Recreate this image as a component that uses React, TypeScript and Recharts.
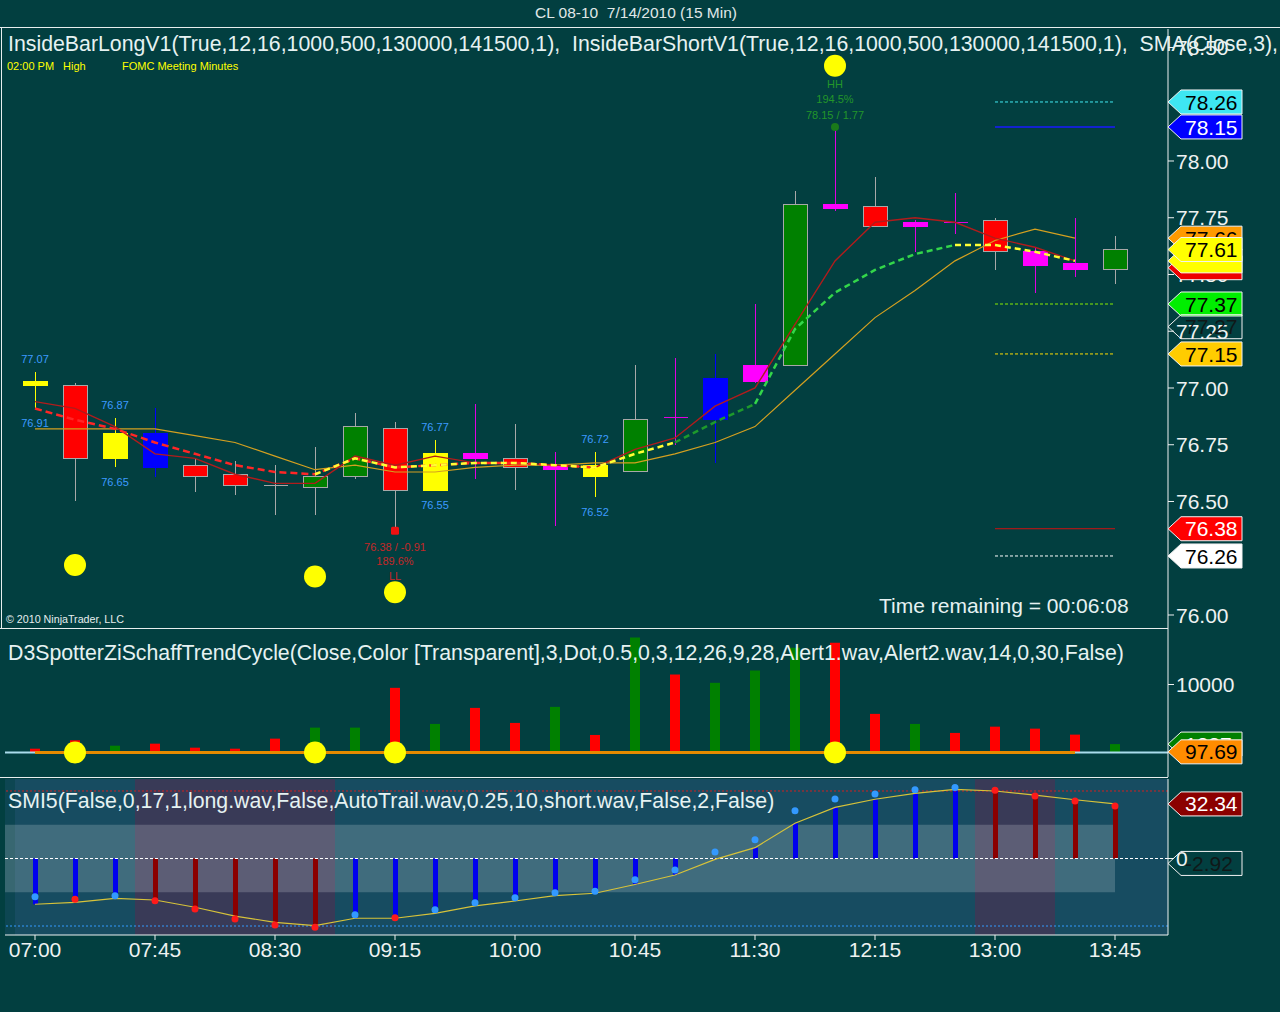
import React from 'react';
import {
  Bar,
  Cell,
  ComposedChart,
  Line,
  ReferenceArea,
  ReferenceLine,
  XAxis,
  YAxis,
} from 'recharts';

// 15 min bars, CL 08-10, 7/14/2010
const times = [
  '07:00', '07:15', '07:30', '07:45', '08:00', '08:15', '08:30', '08:45',
  '09:00', '09:15', '09:30', '09:45', '10:00', '10:15', '10:30', '10:45',
  '11:00', '11:15', '11:30', '11:45', '12:00', '12:15', '12:30', '12:45',
  '13:00', '13:15', '13:30', '13:45',
];
const opens = [
  77.03, 77.01, 76.69, 76.8, 76.66, 76.62, 76.57, 76.56, 76.61, 76.82, 76.55, 76.69, 76.69, 76.66,
  76.61, 76.63, 76.87, 76.86, 77.03, 77.1, 77.81, 77.8, 77.73, 77.73, 77.74, 77.6, 77.55, 77.52,
];
const highs = [
  77.07, 77.02, 76.87, 76.91, 76.69, 76.68, 76.66, 76.74, 76.89, 76.85, 76.77, 76.93, 76.84, 76.72,
  76.72, 77.1, 77.13, 77.15, 77.37, 77.87, 78.15, 77.93, 77.74, 77.86, 77.75, 77.62, 77.75, 77.67,
];
const lows = [
  76.91, 76.5, 76.65, 76.61, 76.54, 76.53, 76.44, 76.44, 76.6, 76.38, 76.55, 76.6, 76.55, 76.39,
  76.52, 76.63, 76.75, 76.67, 77.02, 77.1, 77.78, 77.71, 77.6, 77.68, 77.52, 77.42, 77.49, 77.46,
];
const closes = [
  77.01, 76.69, 76.8, 76.65, 76.61, 76.57, 76.57, 76.61, 76.83, 76.55, 76.71, 76.71, 76.65, 76.64,
  76.66, 76.86, 76.87, 77.04, 77.1, 77.81, 77.79, 77.71, 77.71, 77.73, 77.6, 77.54, 77.52, 77.61,
];
// bar painter states: inside bars are yellow, etc.
const barKinds = [
  'inside', 'down', 'inside', 'blue', 'down', 'down', 'doji', 'up', 'up', 'down', 'inside', 'pink',
  'down', 'pink', 'inside', 'up', 'pink', 'blue', 'pink', 'up', 'pink', 'down', 'pink', 'pink',
  'down', 'pink', 'pink', 'up',
];

const fastMa = [
  76.94, 76.91, 76.83, 76.71, 76.69, 76.62, 76.58, 76.58, 76.7, 76.66, 76.7, 76.67, 76.67, 76.66,
  76.65, 76.73, 76.78, 76.92, 77.0, 77.28, 77.56, 77.73, 77.75, 77.73, 77.66, 77.62, 77.56, null,
];
const slowMa = [
  76.82, 76.82, 76.82, 76.82, 76.79, 76.76, 76.7, 76.64, 76.66, 76.63, 76.63, 76.65, 76.66, 76.66,
  76.67, 76.67, 76.71, 76.76, 76.83, 76.99, 77.15, 77.31, 77.43, 77.56, 77.65, 77.7, 77.66, null,
];
const trendMa = [
  76.91, 76.86, 76.82, 76.76, 76.71, 76.66, 76.63, 76.62, 76.69, 76.65, 76.66, 76.67, 76.67, 76.66,
  76.65, 76.71, 76.76, 76.85, 76.93, 77.26, 77.42, 77.52, 77.59, 77.63, 77.63, 77.6, 77.56, null,
];
// bar ranges of each colour of the trend line
const trendRed = [0, 14];
const trendYellow = [[7, 16], [23, 26]];
const trendDarkGreen = [16, 18];
const trendGreen = [18, 23];

const signalBars = [1, 7, 9, 20];
const signalPrices = [76.22, 76.17, 76.1, 78.42];

const swingLowBar = 9;
const swingLowPrice = 76.38;
const swingLowText = ['76.38 / -0.91', '189.6%', 'LL'];
const swingHighBar = 20;
const swingHighPrice = 78.15;
const swingHighText = ['HH', '194.5%', '78.15 / 1.77'];

const priceTicks = [76, 76.5, 76.75, 77, 77.25, 77.5, 77.75, 78, 78.5];
const levelPrices = [78.26, 78.15, 77.37, 77.15, 76.38, 76.26];
const tagPrices = [78.26, 78.15, 77.53, 77.56, 77.66, 77.61, 77.37, 77.27, 77.15, 76.38, 76.26];
// tags whose text is covered by the tag drawn on top of them
const coveredTags = [77.53, 77.56];

const volumes = [
  560, 1800, 1000, 1300, 710, 560, 2040, 3660, 3660, 9510, 4200, 6560, 4350, 6710, 2580, 16900,
  11470, 10250, 12060, 15410, 16150, 5680, 4200, 2880, 3800, 3510, 2630, 1237,
];
const volumeKinds = [
  'down', 'down', 'up', 'down', 'down', 'down', 'down', 'up', 'up', 'down', 'up', 'down', 'down',
  'up', 'down', 'up', 'down', 'up', 'up', 'up', 'down', 'down', 'up', 'down', 'down', 'down',
  'down', 'up',
];
const volumeTicks = [10000];
const volumeTags = [1237, 97.69];

const smiSignal = [
  -27.1, -26.0, -23.6, -24.6, -28.9, -34.1, -37.8, -39.8, -35.4, -35.4, -32.5, -28.1, -25.2, -22.0,
  -20.6, -15.4, -9.8, -0.5, 6.4, 20.9, 30.3, 35.1, 38.6, 41.0, 40.0, 37.6, 34.8, 32.34,
];
const smiValues = [
  -22.6, -24.2, -22.0, -25.0, -29.9, -35.9, -39.4, -40.8, -33.3, -35.1, -30.3, -26.2, -23.2, -20.3,
  -19.4, -12.6, -6.8, 3.9, 11.1, 28.3, 35.3, 38.2, 40.8, 42.0, 40.4, 37.0, 34.1, 31.1,
];
const smiStemKinds = [
  'long', 'long', 'long', 'short', 'short', 'short', 'short', 'short', 'long', 'long', 'long',
  'long', 'long', 'long', 'long', 'long', 'long', 'long', 'long', 'long', 'long', 'long', 'long',
  'long', 'short', 'short', 'short', 'short',
];
const smiDotKinds = [
  'long', 'short', 'long', 'short', 'short', 'short', 'short', 'short', 'long', 'short', 'long',
  'long', 'long', 'long', 'long', 'long', 'long', 'long', 'long', 'long', 'long', 'long', 'long',
  'long', 'short', 'short', 'short', 'short',
];
const smiTicks = [0];
const smiTags = [32.34, -2.92];

const PRICE_DOMAIN = [75.9383, 78.5815];
const VOL_DOMAIN = [-3603, 18162];
const SMI_DOMAIN = [-45.33, 47.11];

const BG = '#023f40';
const FONT = '"Liberation Sans", Arial, sans-serif';
const AXIS = '#eef2f2';

const CANDLE: Record<string, { body: string; wick: string; border: string }> = {
  inside: { body: '#ffff00', wick: '#ffff00', border: '#ffff00' },
  down: { body: '#ff0000', wick: '#a8a8a8', border: '#a8a8a8' },
  up: { body: '#008000', wick: '#a8a8a8', border: '#a8a8a8' },
  blue: { body: '#0000ff', wick: '#0000ff', border: '#0000ff' },
  pink: { body: '#ff00ff', wick: '#e000e0', border: '#ff00ff' },
  doji: { body: '#a8a8a8', wick: '#a8a8a8', border: '#a8a8a8' },
};
const LEVEL_STYLES = [
  { color: '#40e8f0', dash: '3 2', width: 1 },
  { color: '#1a1aff', dash: undefined, width: 1.5 },
  { color: '#88ee00', dash: '3 2', width: 1 },
  { color: '#ffdd00', dash: '3 2', width: 1 },
  { color: '#d01010', dash: undefined, width: 1 },
  { color: '#ffffff', dash: '3 2', width: 1 },
];
const PRICE_TAG_STYLES = [
  { fill: '#3ee6f2', text: '#000' },
  { fill: '#0000ff', text: '#fff' },
  { fill: '#ee0000', text: '#fff' },
  { fill: '#ffff00', text: '#000' },
  { fill: '#ff9a00', text: '#000' },
  { fill: '#ffff00', text: '#000' },
  { fill: '#00ee00', text: '#000' },
  { fill: 'none', text: '#101818' },
  { fill: '#ffcc00', text: '#000' },
  { fill: '#ff0000', text: '#fff' },
  { fill: '#ffffff', text: '#000' },
];
const VOLUME_TAG_STYLES = [
  { fill: '#008000', text: '#fff' },
  { fill: '#ff8c00', text: '#000' },
];
const SMI_TAG_STYLES = [
  { fill: '#8b0000', text: '#fff' },
  { fill: 'none', text: '#101818' },
];

const inSpan = (i: number, span: number[]) => i >= span[0] && i <= span[1];

const rows = times.map((t, i) => {
  const sigIdx = signalBars.indexOf(i);
  return {
    t,
    i,
    range: [lows[i], highs[i]],
    o: opens[i],
    h: highs[i],
    l: lows[i],
    c: closes[i],
    kind: barKinds[i],
    fast: fastMa[i],
    slow: slowMa[i],
    trendRed: inSpan(i, trendRed) ? trendMa[i] : null,
    trendYellow: trendYellow.some((s) => inSpan(i, s)) ? trendMa[i] : null,
    trendDarkGreen: inSpan(i, trendDarkGreen) ? trendMa[i] : null,
    trendGreen: inSpan(i, trendGreen) ? trendMa[i] : null,
    insideHigh: barKinds[i] === 'inside' ? highs[i] : null,
    insideLow: barKinds[i] === 'inside' ? lows[i] : null,
    sig: sigIdx >= 0 ? signalPrices[sigIdx] : null,
    sigVol: sigIdx >= 0 ? 0 : null,
    swingLow: i === swingLowBar ? swingLowPrice : null,
    swingHigh: i === swingHighBar ? swingHighPrice : null,
    vol: volumes[i],
    signal: smiSignal[i],
    smi: smiValues[i],
  };
});

const Candle = (props: any) => {
  const { x, y, width, height, payload } = props;
  if (x == null || y == null) return <g />;
  const { o, h, l, c, kind } = payload;
  const st = CANDLE[kind];
  const cx = Math.round(x + width / 2) + 0.5;
  const ppu = h > l ? height / (h - l) : 0;
  const top = y + (h - Math.max(o, c)) * ppu;
  const bot = y + (h - Math.min(o, c)) * ppu;
  const left = cx - 12;
  const isCross = kind === 'doji' || Math.abs(o - c) < 0.005;
  return (
    <g shapeRendering="crispEdges">
      <line x1={cx} x2={cx} y1={y} y2={y + height} stroke={st.wick} strokeWidth={1} />
      {isCross ? (
        <line x1={left} x2={left + 24} y1={top} y2={top} stroke={st.wick} strokeWidth={1.5} />
      ) : (
        <rect
          x={left}
          y={top}
          width={24}
          height={Math.max(bot - top, 3)}
          fill={st.body}
          stroke={st.border}
          strokeWidth={1}
        />
      )}
    </g>
  );
};

const Tag = ({ x, y, text, fill, color }: any) => (
  <g>
    <polygon
      points={`${x},${y} ${x + 13},${y - 12} ${x + 74},${y - 12} ${x + 74},${y + 12} ${x + 13},${y + 12}`}
      fill={fill}
      stroke="#f2f2f2"
      strokeWidth={1}
    />
    {text ? (
      <text x={x + 17} y={y} dy="0.36em" fontSize={21} fill={color}>
        {text}
      </text>
    ) : null}
  </g>
);

const makeTick =
  (tagValues: number[], tagStyles: { fill: string; text: string }[], fmt: (v: number) => string) =>
  (props: any) => {
    const { x, y, payload, index } = props;
    const v = payload.value;
    const k = tagValues.indexOf(v);
    if (k >= 0) {
      const st = tagStyles[k];
      const text = coveredTags.includes(v) ? '' : fmt(v);
      return <Tag key={`tag-${index}`} x={x} y={y} text={text} fill={st.fill} color={st.text} />;
    }
    return (
      <g key={`tick-${index}`}>
        <line x1={x} x2={x + 6} y1={y} y2={y} stroke={AXIS} />
        <text x={x + 8} y={y} dy="0.36em" fontSize={21} fill={AXIS}>
          {fmt(v)}
        </text>
      </g>
    );
  };

const priceFmt = (v: number) => v.toFixed(2);
const volFmt = (v: number) => (Number.isInteger(v) ? String(v) : v.toFixed(2));
const smiFmt = (v: number) => (v === 0 ? '0' : v.toFixed(2));

const blank = (key: any) => <g key={key} />;

const InsideHighLabel = (p: any) =>
  p.value == null || p.cy == null ? (
    blank(p.index)
  ) : (
    <text key={p.index} x={p.cx} y={p.cy - 9} textAnchor="middle" fontSize={11} fill="#3d9bff">
      {p.value.toFixed(2)}
    </text>
  );
const InsideLowLabel = (p: any) =>
  p.value == null || p.cy == null ? (
    blank(p.index)
  ) : (
    <text key={p.index} x={p.cx} y={p.cy + 19} textAnchor="middle" fontSize={11} fill="#3d9bff">
      {p.value.toFixed(2)}
    </text>
  );
const SignalDot = (p: any) =>
  p.value == null || p.cy == null ? (
    blank(p.index)
  ) : (
    <circle key={p.index} cx={p.cx} cy={p.cy} r={11} fill="#ffff00" />
  );
const SwingLowMark = (p: any) =>
  p.value == null || p.cy == null ? (
    blank(p.index)
  ) : (
    <g key={p.index}>
      <rect x={p.cx - 4} y={p.cy - 2} width={8} height={8} rx={1.5} fill="#ee1111" />
      {swingLowText.map((s, k) => (
        <text key={k} x={p.cx} y={p.cy + 22 + k * 14.5} textAnchor="middle" fontSize={11} fill="#c42828">
          {s}
        </text>
      ))}
    </g>
  );
const SwingHighMark = (p: any) =>
  p.value == null || p.cy == null ? (
    blank(p.index)
  ) : (
    <g key={p.index}>
      <circle cx={p.cx} cy={p.cy} r={4} fill="#1a7a1a" />
      {swingHighText.map((s, k) => (
        <text key={k} x={p.cx} y={p.cy - 39 + k * 15.5} textAnchor="middle" fontSize={11} fill="#23962a">
          {s}
        </text>
      ))}
    </g>
  );
const SmiDot = (p: any) =>
  p.value == null || p.cy == null ? (
    blank(p.index)
  ) : (
    <circle
      key={p.index}
      cx={p.cx}
      cy={p.cy}
      r={3.5}
      fill={smiDotKinds[p.index] === 'long' ? '#3399ff' : '#ff1a1a'}
    />
  );

const xPad = { left: 10, right: 33 };

const PricePanel = () => (
  <ComposedChart width={1280} height={601} data={rows} margin={{ top: 1, right: 0, bottom: 0, left: 5 }}>
    <XAxis dataKey="t" hide padding={xPad} />
    <YAxis
      orientation="right"
      width={112}
      type="number"
      domain={PRICE_DOMAIN}
      allowDataOverflow
      ticks={[...priceTicks, ...tagPrices]}
      interval={0}
      tickLine={false}
      tickSize={0}
      tickMargin={0}
      axisLine={{ stroke: AXIS }}
      tick={makeTick(tagPrices, PRICE_TAG_STYLES, priceFmt)}
    />
    {levelPrices.map((p, k) => (
      <ReferenceLine
        key={`lvl-${k}`}
        segment={[
          { x: times[24], y: p },
          { x: times[27], y: p },
        ]}
        stroke={LEVEL_STYLES[k].color}
        strokeDasharray={LEVEL_STYLES[k].dash}
        strokeWidth={LEVEL_STYLES[k].width}
      />
    ))}
    <Bar dataKey="range" barSize={24} shape={(p: any) => <Candle {...p} />} isAnimationActive={false} />
    <Line dataKey="slow" stroke="#d4a020" strokeWidth={1.2} dot={false} activeDot={false} isAnimationActive={false} />
    <Line dataKey="fast" stroke="#b01c1c" strokeWidth={1.4} dot={false} activeDot={false} isAnimationActive={false} />
    <Line dataKey="trendRed" stroke="#ff2626" strokeWidth={2.5} strokeDasharray="7 4" dot={false} activeDot={false} isAnimationActive={false} />
    <Line dataKey="trendYellow" stroke="#ffff33" strokeWidth={2.5} strokeDasharray="6 4" dot={false} activeDot={false} isAnimationActive={false} />
    <Line dataKey="trendDarkGreen" stroke="#1e9a2c" strokeWidth={2.5} strokeDasharray="6 4" dot={false} activeDot={false} isAnimationActive={false} />
    <Line dataKey="trendGreen" stroke="#33d64a" strokeWidth={2.5} strokeDasharray="6 4" dot={false} activeDot={false} isAnimationActive={false} />
    <Line dataKey="insideHigh" stroke="none" dot={InsideHighLabel} activeDot={false} isAnimationActive={false} />
    <Line dataKey="insideLow" stroke="none" dot={InsideLowLabel} activeDot={false} isAnimationActive={false} />
    <Line dataKey="sig" stroke="none" dot={SignalDot} activeDot={false} isAnimationActive={false} />
    <Line dataKey="swingLow" stroke="none" dot={SwingLowMark} activeDot={false} isAnimationActive={false} />
    <Line dataKey="swingHigh" stroke="none" dot={SwingHighMark} activeDot={false} isAnimationActive={false} />
  </ComposedChart>
);

const VolumePanel = () => (
  <ComposedChart width={1280} height={148} data={rows} margin={{ top: 0, right: 0, bottom: 0, left: 5 }}>
    <XAxis dataKey="t" hide padding={xPad} />
    <YAxis
      orientation="right"
      width={112}
      type="number"
      domain={VOL_DOMAIN}
      allowDataOverflow
      ticks={[...volumeTicks, ...volumeTags]}
      interval={0}
      tickLine={false}
      tickSize={0}
      tickMargin={0}
      axisLine={{ stroke: AXIS }}
      tick={makeTick(volumeTags, VOLUME_TAG_STYLES, volFmt)}
    />
    <ReferenceLine y={0} stroke="#a9dcec" strokeWidth={2} />
    <Bar dataKey="vol" barSize={10} isAnimationActive={false}>
      {rows.map((r) => (
        <Cell key={r.t} fill={volumeKinds[r.i] === 'up' ? '#008000' : '#ff0000'} />
      ))}
    </Bar>
    <ReferenceLine
      segment={[
        { x: times[0], y: 0 },
        { x: times[26], y: 0 },
      ]}
      stroke="#e58a00"
      strokeWidth={3}
    />
    <Line dataKey="sigVol" stroke="none" dot={SignalDot} activeDot={false} isAnimationActive={false} />
  </ComposedChart>
);

const SmiPanel = () => (
  <ComposedChart width={1280} height={234} data={rows} margin={{ top: 1, right: 0, bottom: 0, left: 5 }}>
    <XAxis
      dataKey="t"
      padding={xPad}
      interval={2}
      height={77}
      tickSize={5}
      tickMargin={2}
      tick={{ fill: AXIS, fontSize: 21 }}
      tickLine={{ stroke: AXIS }}
      axisLine={{ stroke: AXIS }}
    />
    <XAxis xAxisId="n" type="number" dataKey="i" domain={[-0.75, 28.325]} allowDataOverflow hide />
    <YAxis
      orientation="right"
      width={112}
      type="number"
      domain={SMI_DOMAIN}
      allowDataOverflow
      ticks={[...smiTicks, ...smiTags]}
      interval={0}
      tickLine={false}
      tickSize={0}
      tickMargin={0}
      axisLine={{ stroke: AXIS }}
      tick={makeTick(smiTags, SMI_TAG_STYLES, smiFmt)}
    />
    <ReferenceArea xAxisId="n" x1={-0.75} x2={-0.5} fill="#0d4652" fillOpacity={1} />
    <ReferenceArea xAxisId="n" x1={-0.5} x2={28.325} fill="#174c61" fillOpacity={1} />
    <ReferenceArea xAxisId="n" x1={2.5} x2={7.5} fill="#393a57" fillOpacity={1} />
    <ReferenceArea xAxisId="n" x1={23.5} x2={25.5} fill="#393a57" fillOpacity={1} />
    <ReferenceArea xAxisId="n" x1={-0.75} x2={27} y1={-20} y2={20} fill="#ffffff" fillOpacity={0.18} />
    <ReferenceLine y={40} stroke="#d02020" strokeDasharray="2 2" />
    <ReferenceLine y={0} stroke="#ffffff" strokeDasharray="3 2" />
    <ReferenceLine y={-40} stroke="#3399ff" strokeDasharray="2 2" />
    <Bar dataKey="signal" barSize={5} isAnimationActive={false}>
      {rows.map((r) => (
        <Cell key={r.t} fill={smiStemKinds[r.i] === 'long' ? '#0000ee' : '#8b0000'} />
      ))}
    </Bar>
    <Line dataKey="signal" stroke="#d6c23a" strokeWidth={1.2} dot={false} activeDot={false} isAnimationActive={false} />
    <Line dataKey="smi" stroke="none" dot={SmiDot} activeDot={false} isAnimationActive={false} />
  </ComposedChart>
);

const legend: React.CSSProperties = {
  position: 'absolute',
  fontSize: 21.3,
  lineHeight: '22px',
  color: '#e6f2f2',
  whiteSpace: 'pre',
  pointerEvents: 'none',
};
const note: React.CSSProperties = {
  position: 'absolute',
  fontSize: 11,
  lineHeight: '12px',
  color: '#ffff00',
  whiteSpace: 'nowrap',
};
const hr = (top: number, width: number): React.CSSProperties => ({
  position: 'absolute',
  left: 0,
  top,
  width,
  height: 1,
  background: '#e8eeee',
});

export default function App() {
  return (
    <div
      style={{
        position: 'absolute',
        left: 0,
        top: 0,
        width: 1280,
        height: 1012,
        background: BG,
        fontFamily: FONT,
        overflow: 'hidden',
      }}
    >
      <div
        style={{
          position: 'absolute',
          left: 0,
          width: 1272,
          top: 4,
          textAlign: 'center',
          fontSize: 15.5,
          lineHeight: '18px',
          color: '#e0e8e8',
          whiteSpace: 'pre',
        }}
      >
        {'CL 08-10  7/14/2010 (15 Min)'}
      </div>
      <div style={{ position: 'absolute', left: 0, top: 28 }}>
        <PricePanel />
      </div>
      <div style={{ position: 'absolute', left: 0, top: 629 }}>
        <VolumePanel />
      </div>
      <div style={{ position: 'absolute', left: 0, top: 778 }}>
        <SmiPanel />
      </div>
      <div style={hr(27, 1280)} />
      <div style={hr(628, 1168)} />
      <div style={hr(777, 1168)} />
      <div style={{ position: 'absolute', left: 1, top: 27, width: 1, height: 601, background: '#e8eeee' }} />

      <div style={{ ...legend, left: 8, top: 33 }}>
        {'InsideBarLongV1(True,12,16,1000,500,130000,141500,1),  InsideBarShortV1(True,12,16,1000,500,130000,141500,1),  SMA(Close,3),'}
      </div>
      <div style={{ ...note, left: 7, top: 60 }}>02:00 PM</div>
      <div style={{ ...note, left: 63, top: 60 }}>High</div>
      <div style={{ ...note, left: 122, top: 60 }}>FOMC Meeting Minutes</div>
      <div style={{ ...legend, fontSize: 21, left: 879, top: 595 }}>Time remaining = 00:06:08</div>
      <div style={{ ...note, color: '#e6eeee', fontSize: 10.7, left: 6, top: 613 }}>© 2010 NinjaTrader, LLC</div>
      <div style={{ ...legend, left: 8, top: 642 }}>
        {'D3SpotterZiSchaffTrendCycle(Close,Color [Transparent],3,Dot,0.5,0,3,12,26,9,28,Alert1.wav,Alert2.wav,14,0,30,False)'}
      </div>
      <div style={{ ...legend, left: 8, top: 790 }}>
        SMI5(False,0,17,1,long.wav,False,AutoTrail.wav,0.25,10,short.wav,False,2,False)
      </div>
    </div>
  );
}
